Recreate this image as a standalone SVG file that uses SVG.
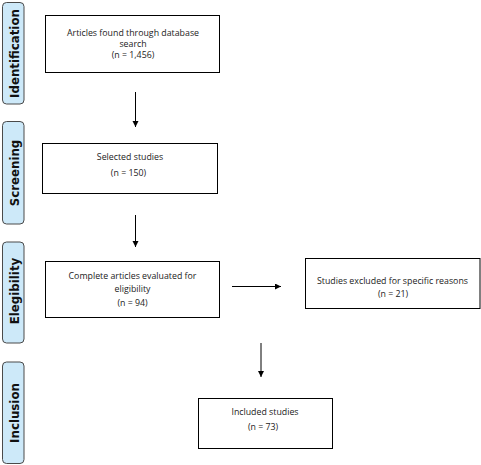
<svg xmlns="http://www.w3.org/2000/svg" width="481" height="465" viewBox="0 0 481 465">
<style>
.side{fill:#cde9f9;stroke:#4a4a4a;stroke-width:1}
.st{font-family:"DejaVu Sans",sans-serif;font-weight:bold;font-size:11.8px;fill:#111;text-anchor:middle}
.box{fill:#fff;stroke:#000;stroke-width:1}
.t{font-family:"Open Sans","Liberation Sans",sans-serif;font-size:8.8px;fill:#222;text-anchor:middle}
.c{stroke:#000;stroke-width:1;fill:none}
</style>
<defs>
<marker id="ah" markerWidth="8" markerHeight="8" refX="6" refY="3" orient="auto" markerUnits="userSpaceOnUse">
<path d="M0,0 L6,3 L0,6 Z" fill="#000"/>
</marker>
</defs>
<rect width="481" height="465" fill="#fff"/>
<g id="side-identification"><rect class="side" x="2.5" y="2.5" width="21.5" height="101.5" rx="4"/><text class="st" transform="translate(18.6,53.5) rotate(-90)">Identification</text></g>
<g id="side-screening"><rect class="side" x="2.5" y="121.5" width="21.5" height="102.5" rx="4"/><text class="st" transform="translate(18.6,173) rotate(-90)">Screening</text></g>
<g id="side-elegibility"><rect class="side" x="2.5" y="242" width="21.5" height="101" rx="4"/><text class="st" transform="translate(18.6,291) rotate(-90)">Elegibility</text></g>
<g id="side-inclusion"><rect class="side" x="2.5" y="362" width="21.5" height="101.5" rx="4"/><text class="st" transform="translate(18.6,413) rotate(-90)">Inclusion</text></g>
<g id="node-articles"><rect class="box" x="45.5" y="15.5" width="174" height="57"/><text class="t" x="133" y="35.5">Articles found through database</text><text class="t" x="133" y="46.5">search</text><text class="t" x="133" y="58">(n = 1,456)</text></g>
<g id="node-selected"><rect class="box" x="42.5" y="143.5" width="175" height="50"/><text class="t" x="130" y="159.5">Selected studies</text><text class="t" x="128.5" y="175.5">(n = 150)</text></g>
<g id="node-complete"><rect class="box" x="45.5" y="261.5" width="174" height="56"/><text class="t" x="132.5" y="278.5">Complete articles evaluated for</text><text class="t" x="132.5" y="292">eligibility</text><text class="t" x="132.5" y="305.5">(n = 94)</text></g>
<g id="node-excluded"><rect class="box" x="305.5" y="258.5" width="174.5" height="50"/><text class="t" x="392.5" y="283.5">Studies excluded for specific reasons</text><text class="t" x="393" y="297">(n = 21)</text></g>
<g id="node-included"><rect class="box" x="198.5" y="398.5" width="134" height="50"/><text class="t" x="265" y="414.5">Included studies</text><text class="t" x="263" y="429.5">(n = 73)</text></g>
<g id="connectors">
<line class="c" x1="135.5" y1="92" x2="135.5" y2="127" marker-end="url(#ah)"/>
<line class="c" x1="135.5" y1="215" x2="135.5" y2="247" marker-end="url(#ah)"/>
<line class="c" x1="232" y1="286.5" x2="281" y2="286.5" marker-end="url(#ah)"/>
<line class="c" x1="261" y1="343" x2="261" y2="377" marker-end="url(#ah)"/>
</g>
</svg>
